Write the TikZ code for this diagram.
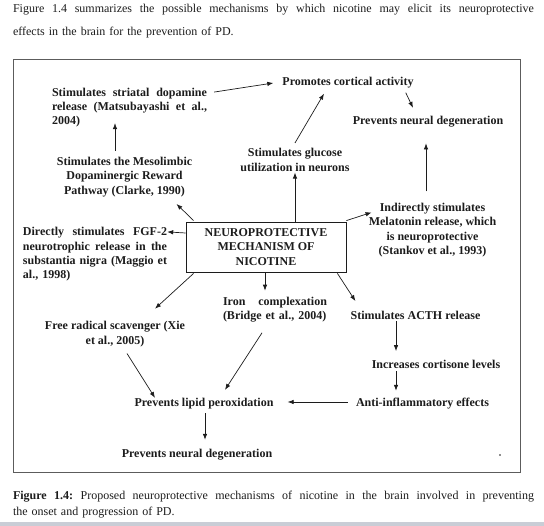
\documentclass[tikz,border=0pt]{standalone}
\usepackage{fontspec}
\setmainfont{Liberation Serif}
\usetikzlibrary{arrows.meta,calc,positioning}
\definecolor{ink}{HTML}{1C1C1C}
\definecolor{framegray}{HTML}{5C5C5C}
\definecolor{pagebar}{HTML}{C9CDD6}
\newcommand{\fillrow}[2]{\leavevmode\hbox to #1{\frenchspacing\spaceskip=.25em plus 1fil\relax #2}}
\tikzset{lnk/.style={-{Latex[length=6pt,width=4.5pt]}, line width=.7pt, color=ink}, lbl/.style={font=\bfseries\fontsize{12}{14.3}\selectfont, text=ink, inner sep=0pt, align=center}, jst/.style={lbl, align=left}, hub/.style={lbl, draw=ink, line width=.8pt, minimum width=160pt, minimum height=50pt}, prose/.style={font=\fontsize{12}{23}\selectfont, text=ink, inner sep=0pt, text width=521pt, align=left}}

\begin{document}
\begin{tikzpicture}[x=1pt,y=-1pt]
\useasboundingbox (0,0) rectangle (544,526);
\fill[pagebar] (0,522) rectangle (544,526);
\node[prose] (intro) at (273.5,21.5) {\fillrow{521pt}{Figure 1.4 summarizes the possible mechanisms by which nicotine may elicit its neuroprotective}\\effects in the brain for the prevention of PD.};
\node[prose, font=\fontsize{12}{16}\selectfont] (caption) at (273.5,505) {\fillrow{521pt}{\textbf{Figure 1.4:} Proposed neuroprotective mechanisms of nicotine in the brain involved in preventing}\\the onset and progression of PD.};
\draw[framegray, line width=1pt] (13,60) rectangle (520,473);
\node[hub] (hub) at (266,247) {NEUROPROTECTIVE\\MECHANISM OF\\NICOTINE};
\node[jst, text width=155pt] (strdop) at (129.5,107.5) {\fillrow{155pt}{Stimulates striatal dopamine}\\\fillrow{155pt}{release (Matsubayashi et al.,}\\2004)};
\node[lbl] (cort) at (348,83) {Promotes cortical activity};
\node[lbl] (prevtop) at (428,122) {Prevents neural degeneration};
\node[lbl] (gluc) at (295,160) {Stimulates glucose\\utilization in neurons};
\node[lbl] (meso) at (124.5,177) {Stimulates the Mesolimbic\\Dopaminergic Reward\\Pathway (Clarke, 1990)};
\node[lbl] (mela) at (432.5,230) {Indirectly stimulates\\Melatonin release, which\\is neuroprotective\\(Stankov et al., 1993)};
\node[jst, text width=144pt] (fgf) at (95,254.5) {\fillrow{144pt}{Directly stimulates FGF-2}\\\fillrow{144pt}{neurotrophic release in the}\\\fillrow{144pt}{substantia nigra (Maggio et}\\al., 1998)};
\node[lbl] (free) at (115,334) {Free radical scavenger (Xie\\et al., 2005)};
\node[jst, text width=104pt] (iron) at (275,310) {\fillrow{104pt}{Iron complexation}\\(Bridge et al., 2004)};
\node[lbl] (acth) at (415.5,315) {Stimulates ACTH release};
\node[lbl] (cortis) at (436,364) {Increases cortisone levels};
\node[lbl] (anti) at (422.5,404) {Anti-inflammatory effects};
\node[lbl] (lipid) at (204,404) {Prevents lipid peroxidation};
\node[lbl] (prevbot) at (197,455) {Prevents neural degeneration};
\fill[ink] (500,455) circle (.9pt);
\draw[lnk] ($(strdop.north east)+(7,4.5)$) -- ($(cort.west)+(-9,0)$);
\draw[lnk] ($(cort.south east)+(-8,4)$) -- ($(prevtop.north)+(-15,-8.5)$);
\draw[lnk] ($(gluc.north)+(0,-5.5)$) -- ($(cort.south)+(-24,5)$);
\draw[lnk] ($(hub.north)+(29,0)$) -- ($(gluc.south)+(0,1)$);
\draw[lnk] ($(hub.north west)+(8,-1)$) -- ($(meso.south)+(52,7)$);
\draw[lnk] ($(meso.north)+(-9.5,-6.5)$) -- ($(strdop.south)+(-14.5,-4.3)$);
\draw[lnk] ($(hub.west)+(0,-14)$) -- ($(fgf.north east)+(0,4.5)$);
\draw[lnk] ($(hub.north east)+(0,-1)$) -- ($(mela.north west)+(3,9.5)$);
\draw[lnk] ($(mela.north)+(-6.5,-11.5)$) -- ($(prevtop.south)+(-2,15.7)$);
\draw[lnk] ($(hub.south east)+(-9,1)$) -- ($(acth.north west)+(5,-9.5)$);
\draw[lnk] ($(hub.south)+(-1,0)$) -- ($(iron.north)+(-10,-6.5)$);
\draw[lnk] ($(hub.south west)+(8,1)$) -- ($(free.north)+(40,-12.5)$);
\draw[lnk] ($(free.south)+(12,6.7)$) -- ($(lipid.north)+(-49,-0.5)$);
\draw[lnk] ($(iron.south)+(-13,10)$) -- ($(lipid.north)+(21,-8.5)$);
\draw[lnk] ($(acth.south)+(-19.5,1.7)$) -- ($(cortis.north)+(-40,-8.5)$);
\draw[lnk] ($(cortis.south)+(-40,2.7)$) -- ($(anti.north)+(-26.5,-7.5)$);
\draw[lnk] ($(anti.west)+(-8,-2)$) -- ($(lipid.east)+(14,-2)$);
\draw[lnk] ($(lipid.south)+(1,3.7)$) -- ($(prevbot.north)+(8,-9.5)$);
\end{tikzpicture}
\end{document}
